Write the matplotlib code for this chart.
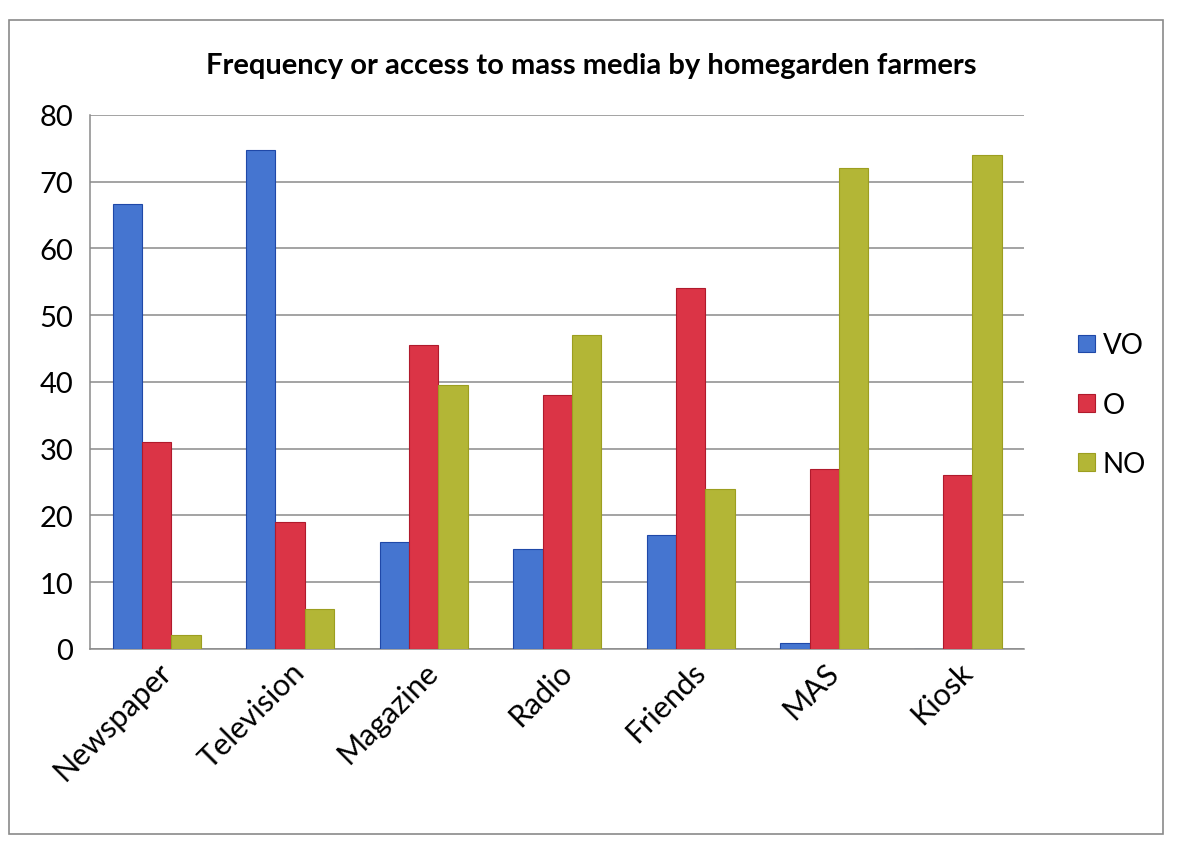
import numpy as np
import matplotlib
matplotlib.use("Agg")
import matplotlib.pyplot as plt
from matplotlib.patches import Rectangle

plt.rcParams['font.family'] = ['Lato', 'DejaVu Sans']

# data
categories = ['Newspaper', 'Television', 'Magazine', 'Radio', 'Friends', 'MAS', 'Kiosk']
vo = [66.7, 74.7, 16, 15, 17, 0.8, 0]
o = [31, 19, 45.5, 38, 54, 27, 26]
no = [2, 6, 39.5, 47, 24, 72, 74]
series_names = ['VO', 'O', 'NO']
colors = ['#4575D0', '#DB3446', '#B3B636']
edges = ['#1F48A8', '#B01A2C', '#9C9E20']

fig = plt.figure(figsize=(11.83, 8.45), dpi=100)
ax = fig.add_axes([0.076, 0.231, 0.79, 0.632])

x = np.arange(len(categories))
w = 0.22
for i, (vals, name) in enumerate(zip([vo, o, no], series_names)):
    ax.bar(x + (i - 1) * w, vals, w, color=colors[i], edgecolor=edges[i],
           linewidth=0.8, label=name, zorder=3)

ax.set_xlim(-0.5, len(categories) - 0.5)
ax.set_ylim(0, 80)
ax.set_yticks(range(0, 81, 10))
ax.yaxis.grid(True, color='#8a8a8a', linewidth=1.1, zorder=0)
ax.tick_params(axis='y', length=0, labelsize=21, pad=12)
ax.tick_params(axis='x', length=0, labelsize=22, pad=6)
ax.set_xticks(x)
ax.set_xticklabels(categories, rotation=45, ha='right', rotation_mode='anchor')
for s in ['top', 'right']:
    ax.spines[s].set_visible(False)
for s in ['left', 'bottom']:
    ax.spines[s].set_color('#8a8a8a')
    ax.spines[s].set_linewidth(1.1)

fig.text(0.5, 0.922, 'Frequency or access to mass media by homegarden farmers',
         ha='center', va='center', fontsize=21, fontweight='bold')

fig.legend(loc='center left', bbox_to_anchor=(0.89, 0.52), frameon=False,
           fontsize=20, handlelength=0.6, handleheight=0.6, labelspacing=1.2,
           handletextpad=0.3)

# chart area border
fig.patches.append(Rectangle((0.008, 0.012), 0.975, 0.963, transform=fig.transFigure,
                             fill=False, edgecolor='#8a8a8a', linewidth=1.2))

fig.savefig('out.png', dpi=100)
